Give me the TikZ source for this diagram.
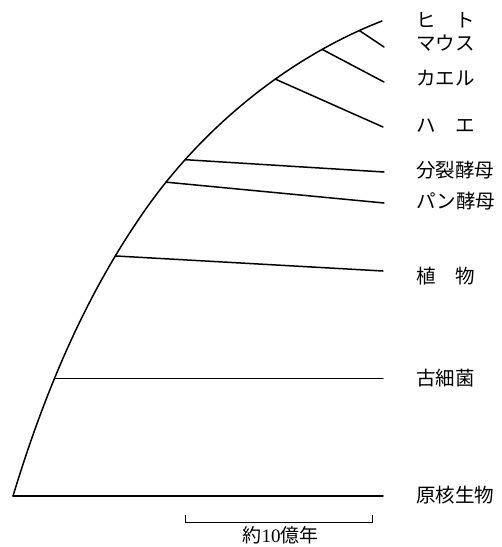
\documentclass[tikz,border=0pt]{standalone}
\usepackage{fontspec}
\setmainfont{Liberation Serif}
\newfontfamily\cjk{Noto Sans CJK JP}
\begin{document}
\begin{tikzpicture}[x=1pt,y=-1pt,
  branch/.style={line width=1.5pt,line cap=round},
  lab/.style={anchor=west,inner sep=0pt,font=\cjk\fontsize{19.5}{19.5}\selectfont},
  scalebar/.style={line width=0.8pt}]
\useasboundingbox (0,0) rectangle (502,547);
% curve with branch points on it
\draw[branch,line join=round] (13,496) coordinate (p0)
   .. controls (44,394) and (84,298) .. coordinate[pos=0.395] (p1) coordinate[pos=0.835] (p2) (143,213)
   .. controls (201,129) and (287,58) .. coordinate[pos=0.125] (p3) coordinate[pos=0.22] (p4)
        coordinate[pos=0.607] (p5) coordinate[pos=0.785] (p6) coordinate[pos=0.92] (p7) (382,21);
% branch ends
\coordinate (e0) at (383,496);
\coordinate (e1) at (383,378);
\coordinate (e2) at (383,271);
\coordinate (e3) at (384,203);
\coordinate (e4) at (384,172);
\coordinate (e5) at (383,127);
\coordinate (e6) at (384,82);
\coordinate (e7) at (384,47);
% labels
\node[lab] (l0) at (416,495.5) {原核生物};
\node[lab] (l1) at (416,378.5) {古細菌};
\node[lab] (l2) at (416,276) {植　物};
\node[lab] (l3) at (416,201.5) {パン酵母};
\node[lab] (l4) at (416,170) {分裂酵母};
\node[lab] (l5) at (416,125.5) {ハ　エ};
\node[lab] (l6) at (416,78) {カエル};
\node[lab] (l7) at (416,43) {マウス};
\node[lab] (l8) at (416,20) {ヒ　ト};
% branches
\draw[branch] (p0) -- (p0 -| e0);
\draw[branch] (p1) -- (p1 -| e1);
\draw[branch] (p2) -- (e2);
\draw[branch] (p3) -- (e3);
\draw[branch] (p4) -- (e4);
\draw[branch] (p5) -- (e5);
\draw[branch] (p6) -- (e6);
\draw[branch] (p7) -- (e7);
% scale bar
\coordinate (s1) at (185,515);
\coordinate (s2) at (372,515);
\draw[scalebar] (s1) -- ++(0,7) -| (s2);
\node[inner sep=0pt,font=\fontsize{19}{19}\selectfont] (sc) at (280.5,535.5) {{\cjk 約}10{\cjk 億年}};
\end{tikzpicture}
\end{document}
